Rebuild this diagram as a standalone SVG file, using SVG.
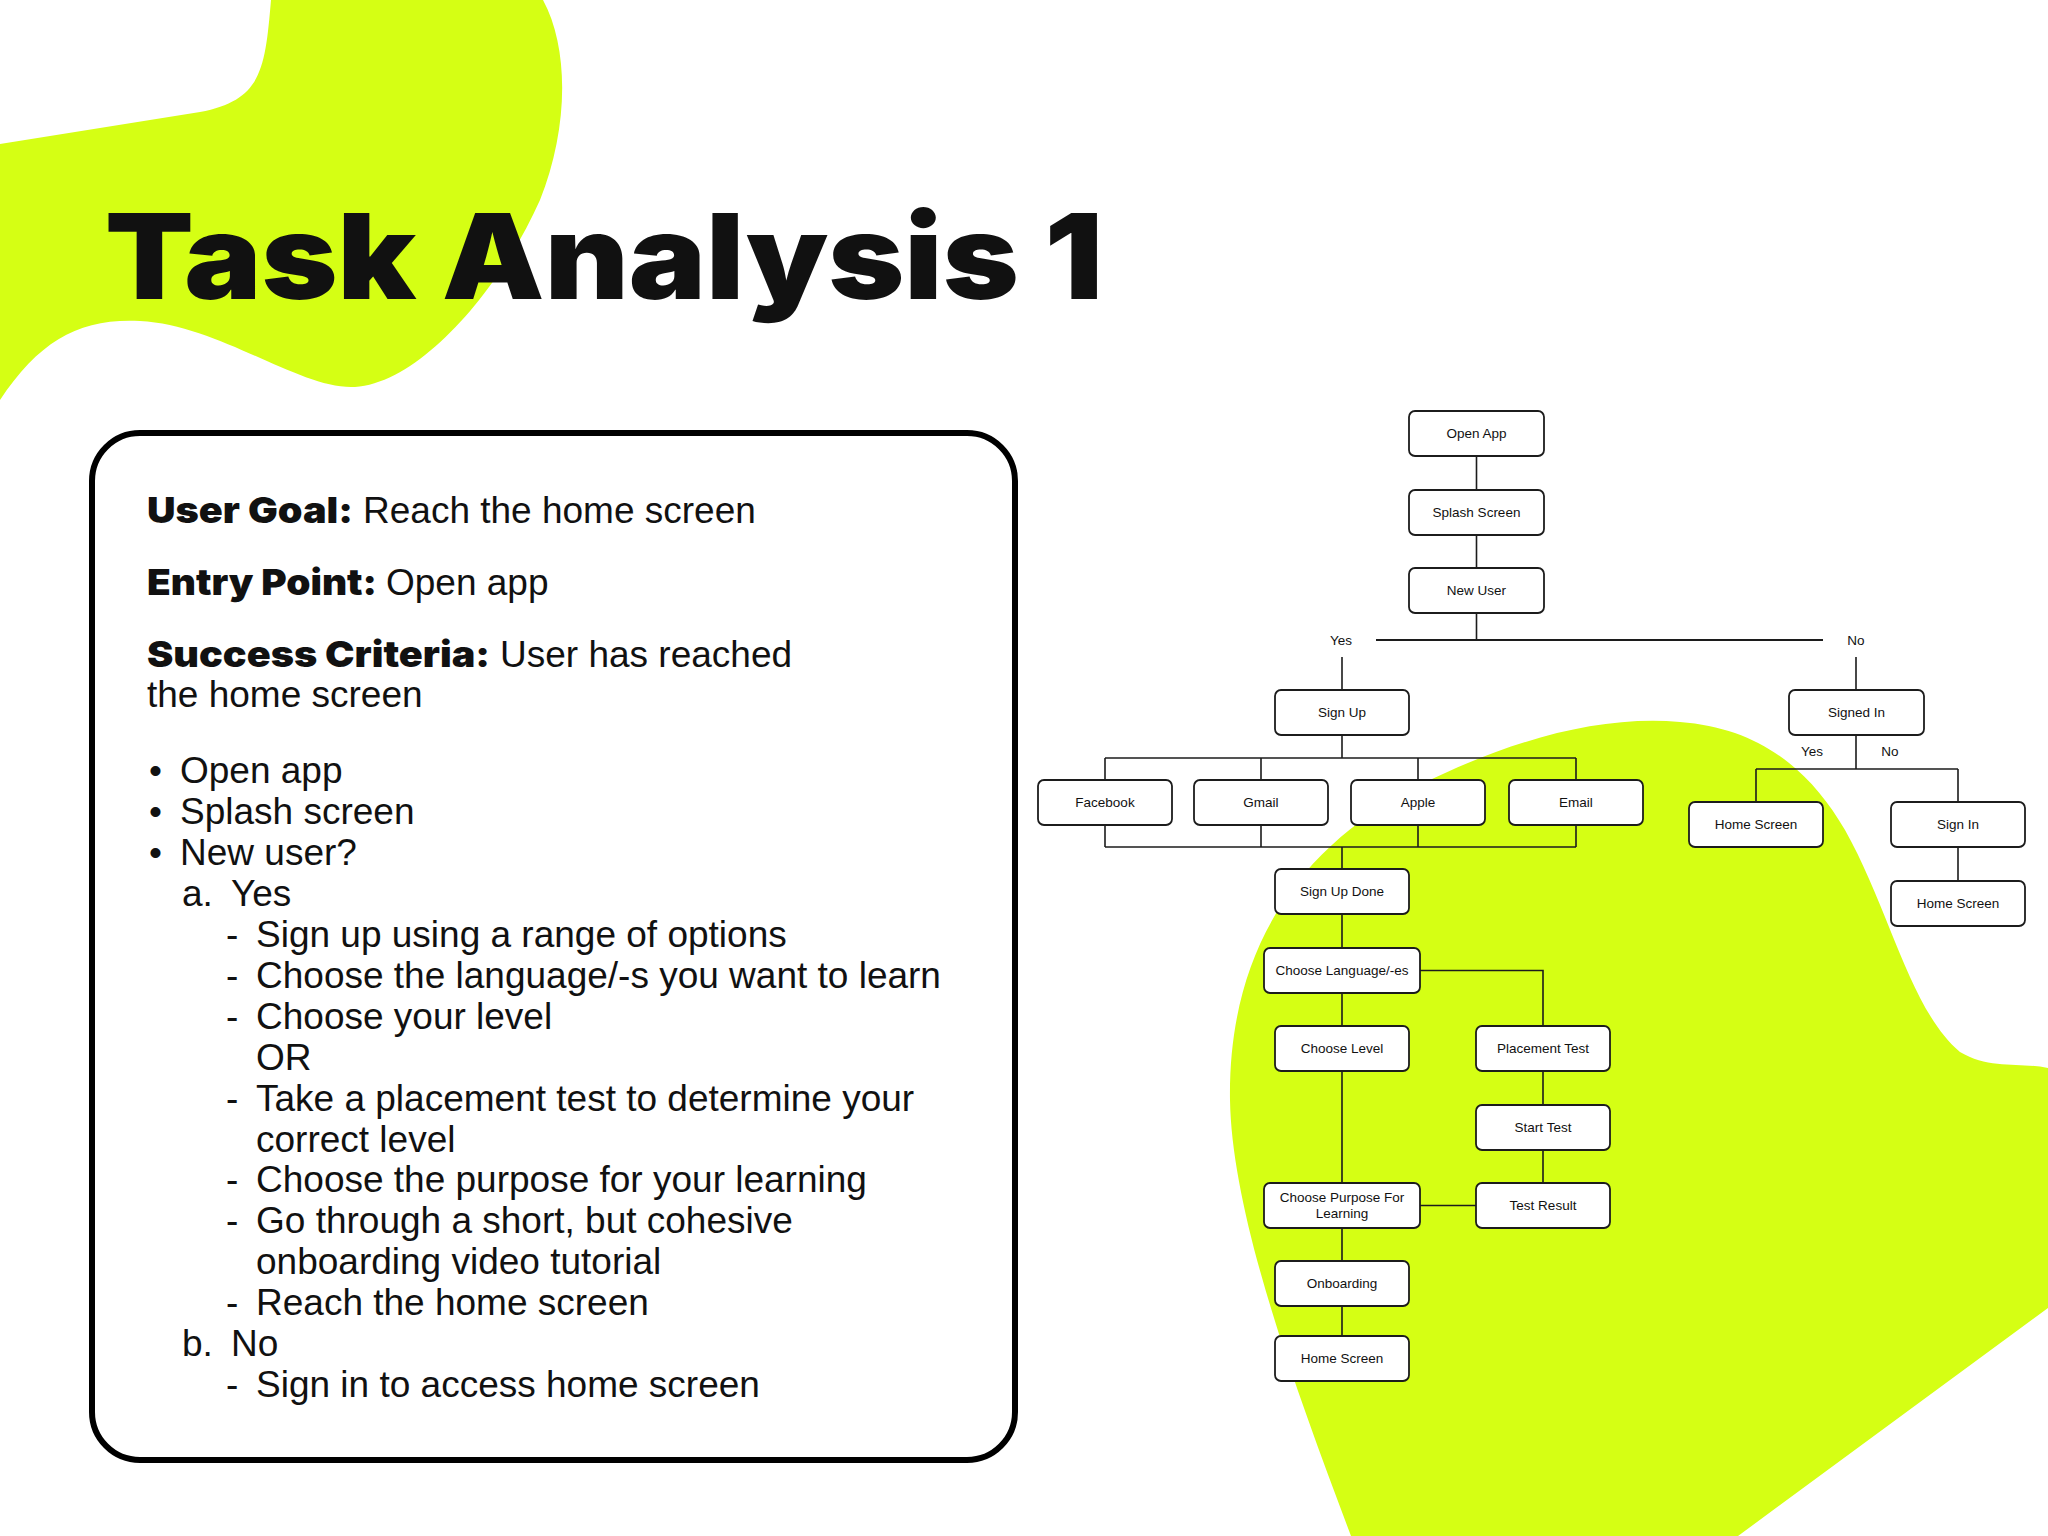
<svg xmlns="http://www.w3.org/2000/svg" width="2048" height="1536" viewBox="0 0 2048 1536">
<style>
.blob{fill:#D5FF14}
.node rect{fill:#fff;stroke:#1c1c1c;stroke-width:1.8}
.node text,.lbl{font-family:"Liberation Sans",Arial,sans-serif;font-size:13.5px;fill:#111;text-anchor:middle}
.conn path{stroke:#1c1c1c;stroke-width:1.6;fill:none}
.body{font-family:"Liberation Sans",Arial,sans-serif;font-size:37px;fill:#111}
.hvy{font-family:"Inter","Roboto","Liberation Sans",Arial,sans-serif;font-weight:900;fill:#111}
</style>
<rect width="2048" height="1536" fill="#fff"/>
<path class="blob" d="M 271,0 C 265,70 262,100 200,112 L 0,144 L 0,400 C 40,340 80,318 140,321 C 220,325 300,390 355,387 C 420,383 500,290 540,200 C 568,130 570,50 543,0 Z"/>
<path class="blob" d="M 1351,1536 C 1300,1400 1232,1220 1230,1100 C 1228,960 1290,850 1420,785 C 1510,740 1600,715 1680,722 C 1760,728 1810,770 1845,830 C 1890,910 1910,1010 1960,1052 C 1990,1070 2020,1062 2048,1068 L 2048,1308 L 1738,1536 Z"/>
<text class="hvy" x="105" y="299" font-size="118" textLength="998" lengthAdjust="spacingAndGlyphs">Task Analysis 1</text>

<g id="panel">
<rect x="92" y="433" width="923" height="1027" rx="48" fill="#fff" stroke="#000" stroke-width="6"/>
<text class="hvy" x="147" y="523" font-size="36" textLength="206" lengthAdjust="spacingAndGlyphs">User Goal:</text>
<text class="body" x="363" y="523">Reach the home screen</text>
<text class="hvy" x="147" y="595" font-size="36" textLength="230" lengthAdjust="spacingAndGlyphs">Entry Point:</text>
<text class="body" x="386" y="595">Open app</text>
<text class="hvy" x="147" y="667" font-size="36" textLength="343" lengthAdjust="spacingAndGlyphs">Success Criteria:</text>
<text class="body" x="500" y="667">User has reached</text>
<text class="body" x="147" y="707">the home screen</text>
<text class="body" x="149" y="783">•</text><text class="body" x="180" y="783">Open app</text>
<text class="body" x="149" y="824">•</text><text class="body" x="180" y="824">Splash screen</text>
<text class="body" x="149" y="865">•</text><text class="body" x="180" y="865">New user?</text>
<text class="body" x="182" y="906">a.</text><text class="body" x="231" y="906">Yes</text>
<text class="body" x="226" y="947">-</text><text class="body" x="256" y="947">Sign up using a range of options</text>
<text class="body" x="226" y="988">-</text><text class="body" x="256" y="988">Choose the language/-s you want to learn</text>
<text class="body" x="226" y="1029">-</text><text class="body" x="256" y="1029">Choose your level</text>
<text class="body" x="256" y="1070">OR</text>
<text class="body" x="226" y="1111">-</text><text class="body" x="256" y="1111">Take a placement test to determine your</text>
<text class="body" x="256" y="1152">correct level</text>
<text class="body" x="226" y="1192">-</text><text class="body" x="256" y="1192">Choose the purpose for your learning</text>
<text class="body" x="226" y="1233">-</text><text class="body" x="256" y="1233">Go through a short, but cohesive</text>
<text class="body" x="256" y="1274">onboarding video tutorial</text>
<text class="body" x="226" y="1315">-</text><text class="body" x="256" y="1315">Reach the home screen</text>
<text class="body" x="182" y="1356">b.</text><text class="body" x="231" y="1356">No</text>
<text class="body" x="226" y="1397">-</text><text class="body" x="256" y="1397">Sign in to access home screen</text>
</g>

<g id="connectors" class="conn">
<path d="M1476.5 456 V490 M1476.5 535 V568 M1476.5 613 V640"/>
<path d="M1376 640 H1823" style="stroke-width:2"/>
<path d="M1342 657 V690 M1856 657 V690"/>
<path d="M1342 735 V758 M1105 758 H1576 M1105 758 V780 M1261 758 V780 M1418 758 V780 M1576 758 V780"/>
<path d="M1105 825 V847 M1261 825 V847 M1418 825 V847 M1576 825 V847 M1105 847 H1576 M1342 847 V869"/>
<path d="M1342 914 V948 M1420 970.5 H1543 V1026 M1342 993 V1026 M1543 1071 V1105 M1543 1150 V1183 M1342 1071 V1183 M1420 1205.5 H1476 M1342 1228 V1261 M1342 1306 V1336"/>
<path d="M1856 735 V769 M1756 769 H1958 M1756 769 V802 M1958 769 V802 M1958 847 V881"/>
</g>
<g id="labels">
<text class="lbl" x="1341" y="645">Yes</text>
<text class="lbl" x="1856" y="645">No</text>
<text class="lbl" x="1812" y="756">Yes</text>
<text class="lbl" x="1890" y="756">No</text>
</g>

<g id="n-open" class="node"><rect x="1409" y="411" width="135" height="45" rx="6"/><text x="1476.5" y="438">Open App</text></g>
<g id="n-splash" class="node"><rect x="1409" y="490" width="135" height="45" rx="6"/><text x="1476.5" y="517">Splash Screen</text></g>
<g id="n-newuser" class="node"><rect x="1409" y="568" width="135" height="45" rx="6"/><text x="1476.5" y="595">New User</text></g>
<g id="n-signup" class="node"><rect x="1275" y="690" width="134" height="45" rx="6"/><text x="1342" y="717">Sign Up</text></g>
<g id="n-signedin" class="node"><rect x="1789" y="690" width="135" height="45" rx="6"/><text x="1856.5" y="717">Signed In</text></g>
<g id="n-facebook" class="node"><rect x="1038" y="780" width="134" height="45" rx="6"/><text x="1105" y="807">Facebook</text></g>
<g id="n-gmail" class="node"><rect x="1194" y="780" width="134" height="45" rx="6"/><text x="1261" y="807">Gmail</text></g>
<g id="n-apple" class="node"><rect x="1351" y="780" width="134" height="45" rx="6"/><text x="1418" y="807">Apple</text></g>
<g id="n-email" class="node"><rect x="1509" y="780" width="134" height="45" rx="6"/><text x="1576" y="807">Email</text></g>
<g id="n-home-a" class="node"><rect x="1689" y="802" width="134" height="45" rx="6"/><text x="1756" y="829">Home Screen</text></g>
<g id="n-signin" class="node"><rect x="1891" y="802" width="134" height="45" rx="6"/><text x="1958" y="829">Sign In</text></g>
<g id="n-home-b" class="node"><rect x="1891" y="881" width="134" height="45" rx="6"/><text x="1958" y="908">Home Screen</text></g>
<g id="n-signupdone" class="node"><rect x="1275" y="869" width="134" height="45" rx="6"/><text x="1342" y="896">Sign Up Done</text></g>
<g id="n-chooselang" class="node"><rect x="1264" y="948" width="156" height="45" rx="6"/><text x="1342" y="975">Choose Language/-es</text></g>
<g id="n-chooselevel" class="node"><rect x="1275" y="1026" width="134" height="45" rx="6"/><text x="1342" y="1053">Choose Level</text></g>
<g id="n-placement" class="node"><rect x="1476" y="1026" width="134" height="45" rx="6"/><text x="1543" y="1053">Placement Test</text></g>
<g id="n-starttest" class="node"><rect x="1476" y="1105" width="134" height="45" rx="6"/><text x="1543" y="1132">Start Test</text></g>
<g id="n-purpose" class="node"><rect x="1264" y="1183" width="156" height="45" rx="6"/><text x="1342" y="1202">Choose Purpose For</text><text x="1342" y="1218">Learning</text></g>
<g id="n-testresult" class="node"><rect x="1476" y="1183" width="134" height="45" rx="6"/><text x="1543" y="1210">Test Result</text></g>
<g id="n-onboarding" class="node"><rect x="1275" y="1261" width="134" height="45" rx="6"/><text x="1342" y="1288">Onboarding</text></g>
<g id="n-home" class="node"><rect x="1275" y="1336" width="134" height="45" rx="6"/><text x="1342" y="1363">Home Screen</text></g>
</svg>
